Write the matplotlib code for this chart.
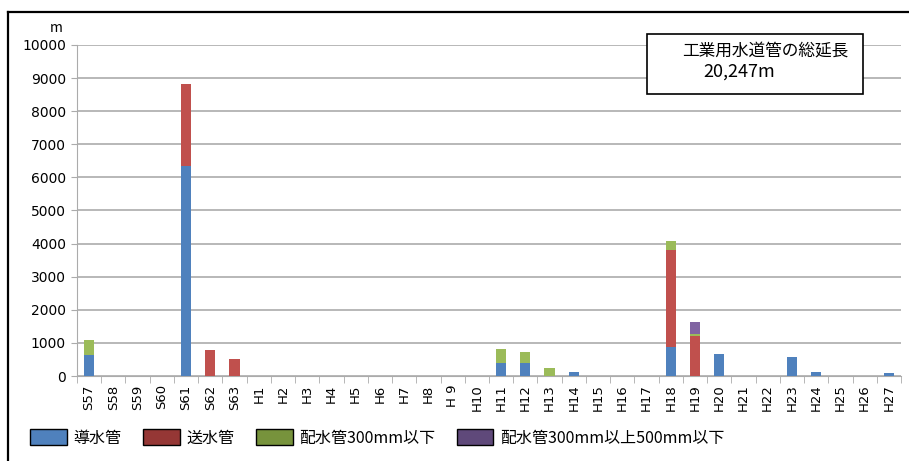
import numpy as np
import matplotlib
matplotlib.use("Agg")
import matplotlib.pyplot as plt
from matplotlib.patches import Patch, Rectangle
from matplotlib.lines import Line2D

plt.rcParams['font.family'] = ['Noto Sans CJK JP', 'DejaVu Sans']

years = ['S57', 'S58', 'S59', 'S60', 'S61', 'S62', 'S63'] + \
        ['H1', 'H2', 'H3', 'H4', 'H5', 'H6', 'H7', 'H8', 'H 9'] + \
        ['H%d' % i for i in range(10, 28)]

# lengths in metres per year
donsui = {'S57': 630, 'S61': 6340, 'H11': 400, 'H12': 400, 'H14': 120,
          'H18': 875, 'H20': 655, 'H23': 575, 'H24': 120, 'H27': 100}
sousui = {'S61': 2480, 'S62': 790, 'S63': 505, 'H18': 2940, 'H19': 1220}
haisui300 = {'S57': 460, 'H11': 425, 'H12': 335, 'H13': 240, 'H18': 255, 'H19': 50}
haisui500 = {'H19': 350}

series_names = ['導水管', '送水管', '配水管300mm以下', '配水管300mm以上500mm以下']
series_data = [donsui, sousui, haisui300, haisui500]
bar_colors = ['#4F81BD', '#C0504D', '#9BBB59', '#8064A2']
legend_colors = ['#4F81BD', '#953735', '#77933C', '#5F497A']

total_label = '20,247m'

W, H = 909, 461
fig = plt.figure(figsize=(W / 100, H / 100), dpi=100)


def fx(px):
    return px / W


def fy(py):
    return 1 - py / H


ax = fig.add_axes([fx(77), fy(376), fx(901) - fx(77), fy(45) - fy(376)])

x = np.arange(len(years))
bottom = np.zeros(len(years))
for name, data, col in zip(series_names, series_data, bar_colors):
    vals = np.array([data.get(y, 0) for y in years], dtype=float)
    ax.bar(x, vals, width=0.42, bottom=bottom, color=col, zorder=3)
    bottom += vals

ax.set_xlim(-0.5, len(years) - 0.5)
ax.set_ylim(0, 10000)
ax.set_yticks(np.arange(0, 10001, 1000))
ax.yaxis.grid(True, color='#ABABAB', linewidth=1.2, zorder=0)
ax.set_xticks(x)
ax.set_xticklabels(years, rotation=90, fontsize=9.5, family='DejaVu Sans')
ax.tick_params(axis='x', length=0, pad=6)
ax.set_xticks(np.arange(-0.5, len(years), 1), minor=True)
ax.tick_params(axis='x', which='minor', length=5, color='#ABABAB')
ax.tick_params(axis='y', labelsize=10, length=4, color='#ABABAB', pad=4)
for lab in ax.get_yticklabels():
    lab.set_family('DejaVu Sans')
for side in ['top', 'right']:
    ax.spines[side].set_visible(False)
for side in ['left', 'bottom']:
    ax.spines[side].set_color('#ABABAB')

fig.text(fx(56), fy(28), 'm', ha='center', va='center', fontsize=10)

# outer frame (top and left edges)
fig.add_artist(Line2D([fx(8), 1.0], [fy(12), fy(12)], color='black', lw=1.6,
                      transform=fig.transFigure))
fig.add_artist(Line2D([fx(8), fx(8)], [fy(12), 0.0], color='black', lw=1.6,
                      transform=fig.transFigure))

# total length box
fig.add_artist(Rectangle((fx(647), fy(94)), fx(863) - fx(647), fy(34) - fy(94),
                         transform=fig.transFigure, facecolor='white',
                         edgecolor='black', lw=1.2, zorder=5))
fig.text(fx(682), fy(51), '工業用水道管の総延長', ha='left', va='center',
         fontsize=12, zorder=6)
fig.text(fx(703), fy(72), total_label, ha='left', va='center',
         fontsize=13, zorder=6)

handles = [Patch(facecolor=c, edgecolor='black', lw=1.0) for c in legend_colors]
fig.legend(handles, series_names, loc='center left',
           bbox_to_anchor=(fx(24), fy(438)), ncol=4, frameon=False,
           fontsize=11.5, handlelength=2.3, handleheight=1.1,
           handletextpad=0.4, columnspacing=1.35, borderaxespad=0)

fig.savefig('out.png', dpi=100)
